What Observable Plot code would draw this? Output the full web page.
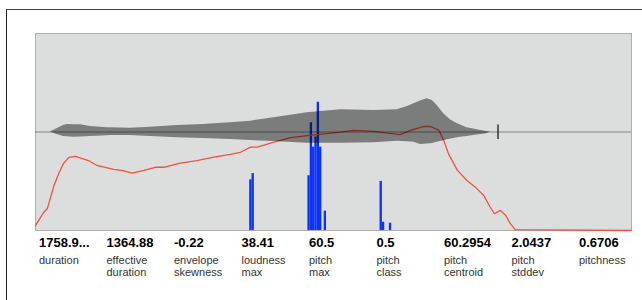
<!DOCTYPE html>
<html>
<head>
<meta charset="utf-8">
<script src="https://cdn.jsdelivr.net/npm/d3@7"></script>
<script src="https://cdn.jsdelivr.net/npm/@observablehq/plot@0.6"></script>
<style>
  html, body { margin: 0; padding: 0; background: #fff; }
  #wrap { position: relative; width: 642px; height: 300px; overflow: hidden; font-family: "Liberation Sans", Arial, Helvetica, sans-serif; }
  #outer { position: absolute; left: 6px; top: 9px; width: 700px; height: 400px; border-top: 1px solid #444; border-left: 1px solid #222; }
  #chart { position: absolute; left: 0; top: 0; }
  #feats { position: absolute; left: 39px; top: 236px; display: flex; }
  .col { width: 67.5px; }
  .val { font-weight: bold; font-size: 13px; line-height: 14px; color: #000; white-space: nowrap; }
  .lab { font-size: 11px; line-height: 12px; color: #333; margin-top: 4px; }
</style>
</head>
<body>
<div id="wrap">
  <div id="outer"></div>
  <div id="chart"></div>
  <div id="feats"></div>
</div>
<script>
// Feature summary (value, label lines)
const featureValues = ["1758.9...", "1364.88", "-0.22", "38.41", "60.5", "0.5", "60.2954", "2.0437", "0.6706"];
const featureLabels = [["duration"], ["effective", "duration"], ["envelope", "skewness"], ["loudness", "max"], ["pitch", "max"], ["pitch", "class"], ["pitch", "centroid"], ["pitch", "stddev"], ["pitchness"]];

// Loudness curve: position across window (0..1), loudness (0..1 of panel height)
const loudPos = [0, 0.014, 0.020, 0.031, 0.039, 0.047, 0.056, 0.067, 0.089, 0.103, 0.131, 0.145, 0.162, 0.182, 0.201, 0.215, 0.243, 0.271, 0.299, 0.327, 0.344, 0.361, 0.372, 0.400, 0.428, 0.456, 0.484, 0.512, 0.534, 0.568, 0.590, 0.612, 0.629, 0.652, 0.663, 0.677, 0.685, 0.693, 0.708, 0.724, 0.738, 0.752, 0.763, 0.770, 0.780, 0.789, 0.797, 0.805, 1.0];
const loudVal = [0.025, 0.093, 0.112, 0.228, 0.289, 0.340, 0.371, 0.376, 0.355, 0.330, 0.310, 0.305, 0.291, 0.305, 0.321, 0.321, 0.342, 0.355, 0.372, 0.386, 0.397, 0.423, 0.423, 0.448, 0.471, 0.482, 0.491, 0.499, 0.508, 0.503, 0.494, 0.487, 0.508, 0.529, 0.528, 0.508, 0.457, 0.389, 0.305, 0.254, 0.220, 0.178, 0.118, 0.085, 0.102, 0.076, 0.034, 0.004, 0];

// Waveform envelope: upper peak amplitude (-1..1)
const waveTopPos = [0.025, 0.036, 0.047, 0.053, 0.076, 0.092, 0.120, 0.159, 0.193, 0.238, 0.282, 0.327, 0.361, 0.400, 0.456, 0.512, 0.568, 0.607, 0.624, 0.641, 0.657, 0.666, 0.674, 0.685, 0.696, 0.708, 0.724, 0.741, 0.757, 0.763];
const waveTop = [0, 0.032, 0.066, 0.076, 0.073, 0.056, 0.043, 0.039, 0.049, 0.066, 0.076, 0.093, 0.110, 0.144, 0.195, 0.225, 0.218, 0.225, 0.259, 0.303, 0.337, 0.320, 0.269, 0.185, 0.124, 0.083, 0.043, 0.022, 0.005, 0];
// Waveform envelope: lower peak amplitude
const waveBotPos = [0.025, 0.036, 0.047, 0.064, 0.092, 0.126, 0.159, 0.193, 0.238, 0.294, 0.361, 0.400, 0.456, 0.512, 0.568, 0.607, 0.635, 0.646, 0.663, 0.691, 0.713, 0.735, 0.757, 0.763];
const waveBot = [0, -0.025, -0.046, -0.053, -0.046, -0.036, -0.036, -0.046, -0.059, -0.069, -0.086, -0.096, -0.114, -0.114, -0.110, -0.093, -0.104, -0.127, -0.120, -0.079, -0.053, -0.036, -0.018, 0];

// Pitch histogram: MIDI pitch (half-semitone bins, 0..128), relative count
const pitchBins = [46, 46.5, 58.5, 59, 59.5, 60, 60.5, 61, 62, 74, 74.5, 76];
const pitchCounts = [0.257, 0.289, 0.278, 0.547, 0.423, 0.474, 0.651, 0.423, 0.098, 0.249, 0.042, 0.037];
const pitchRange = 128;
const binWidth = 0.5;

// Effective end marker
const endMarker = [0.776];

const loud = loudPos.map((x, i) => ({x, v: loudVal[i]}));
// merge envelope into one band table
const wavePositions = Array.from(new Set([...waveTopPos, ...waveBotPos])).sort((a, b) => a - b);
const interp = (xs, ys, x) => {
  for (let i = 0; i < xs.length - 1; i++) {
    if (x >= xs[i] && x <= xs[i + 1]) {
      const t = (x - xs[i]) / (xs[i + 1] - xs[i] || 1);
      return ys[i] + t * (ys[i + 1] - ys[i]);
    }
  }
  return 0;
};
const wave = wavePositions.map(x => ({x, hi: interp(waveTopPos, waveTop, x), lo: interp(waveBotPos, waveBot, x)}));
const hist = pitchBins.map((p, i) => ({p, c: pitchCounts[i]}));

const amp = a => 0.5 + a / 2;

const chart = Plot.plot({
  width: 642,
  height: 232,
  marginLeft: 35,
  marginRight: 11,
  marginTop: 33,
  marginBottom: 2,
  x: {domain: [0, 1], axis: null},
  y: {domain: [0, 1], axis: null},
  style: {background: "transparent", overflow: "visible"},
  marks: [
    Plot.frame({fill: "#dcdddd", stroke: "#aeaeae"}),
    Plot.rectY(hist, {x1: d => d.p / pitchRange, x2: d => (d.p + binWidth) / pitchRange, y1: 0, y2: "c", fill: "#0a32ff", inset: 0}),
    Plot.line(loud, {x: "x", y: "v", stroke: "#f5503c", strokeWidth: 1.3}),
    Plot.areaY(wave, {x: "x", y1: d => amp(d.lo), y2: d => amp(d.hi), fill: "#000", fillOpacity: 0.44}),
    Plot.ruleY([0.5], {x1: 0, x2: 1, stroke: "#000", strokeOpacity: 0.4}),
    Plot.ruleX(endMarker, {y1: 0.462, y2: 0.535, stroke: "#333", strokeWidth: 1.5})
  ]
});
document.getElementById("chart").appendChild(chart);

const feats = document.getElementById("feats");
featureValues.forEach((v, i) => {
  const col = document.createElement("div");
  col.className = "col";
  const val = document.createElement("div");
  val.className = "val";
  val.textContent = v;
  const lab = document.createElement("div");
  lab.className = "lab";
  lab.innerHTML = featureLabels[i].map(s => s.replace(/&/g, "&amp;")).join("<br>");
  col.appendChild(val);
  col.appendChild(lab);
  feats.appendChild(col);
});
</script>
</body>
</html>
